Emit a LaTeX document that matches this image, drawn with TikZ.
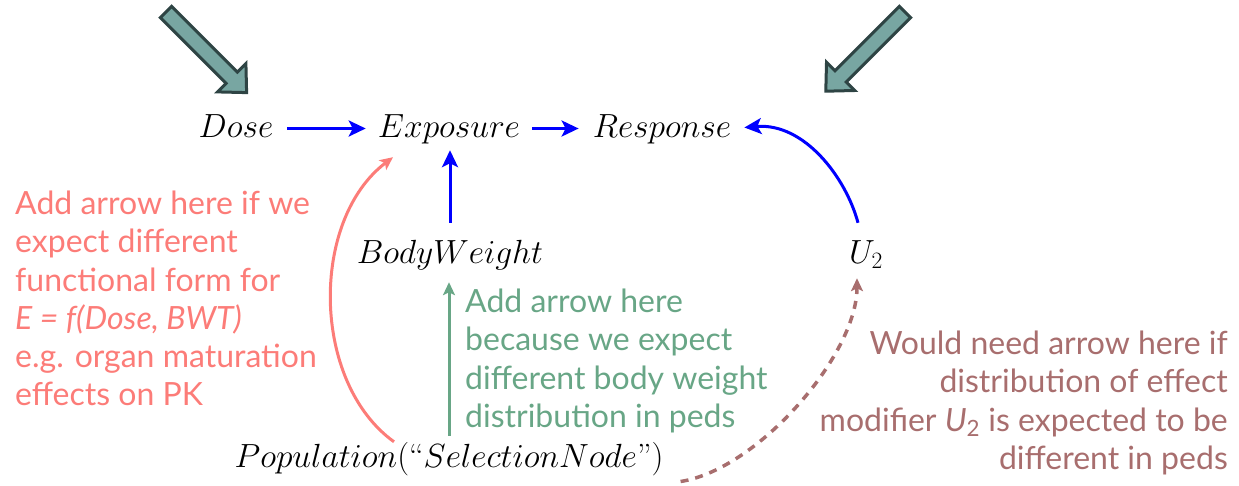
\RequirePackage{fix-cm}
\documentclass[tikz,border=0pt]{standalone}
\usepackage{fontspec}
\newfontfamily\lato{Lato}
\usetikzlibrary{arrows.meta}
\definecolor{arrblue}{RGB}{0,0,255}
\definecolor{salmon}{RGB}{252,124,120}
\definecolor{sage}{RGB}{104,166,134}
\definecolor{rosebrown}{RGB}{168,110,110}
\definecolor{bigfill}{RGB}{120,166,162}
\definecolor{bigline}{RGB}{46,68,68}
\tikzset{
  mathnode/.style={inner sep=0pt, font=\fontsize{33.5}{40}\selectfont, text height=25pt, text depth=8pt},
  bluearr/.style={draw=arrblue, line width=3pt, -{Stealth[length=17pt,width=16pt,inset=4pt]}},
  salarr/.style={draw=salmon, line width=3pt, -{Stealth[length=13pt,width=12pt,inset=3pt]}},
  sagearr/.style={draw=sage, line width=3pt, -{Stealth[length=13pt,width=12pt,inset=3pt]}},
  brownarr/.style={draw=rosebrown, line width=3.5pt, dash pattern=on 8pt off 7pt, -{Stealth[length=13pt,width=12pt,inset=3pt]}},
  note/.style={inner sep=0pt, font=\lato\fontsize{32}{38.2}\selectfont},
  bigarrow/.style={fill=bigfill, draw=bigline, line width=3pt, line join=miter},
}
\begin{document}
\begin{tikzpicture}[x=1pt,y=-1pt]
\useasboundingbox (0,0) rectangle (1239,485);
% big arrows
\begin{scope}[shift={(166,12)},rotate=-45]
  \path[bigarrow] (0,-8) -- (93,-8) -- (93,-20) -- (114,0) -- (93,20) -- (93,8) -- (0,8) -- cycle;
\end{scope}
\begin{scope}[shift={(905,12)},rotate=-135]
  \path[bigarrow] (0,-8) -- (91,-8) -- (91,-20) -- (112,0) -- (91,20) -- (91,8) -- (0,8) -- cycle;
\end{scope}
% math nodes
\node[mathnode, anchor=base] (dose) at (236,137) {$Dose$};
\node[mathnode, anchor=base] (exp) at (449,137) {$Exposure$};
\node[mathnode, anchor=base] (resp) at (662,137) {$Response$};
\node[mathnode, anchor=base] (bw) at (450,263) {$BodyWeight$};
\node[mathnode, anchor=base] (u2) at (866,263) {$U_2$};
\node[mathnode, anchor=base] (pop) at (449,467) {$Population($``$SelectionNode$''$)$};
% blue arrows
\draw[bluearr, shorten <=14pt, shorten >=12pt] (dose) -- (exp);
\draw[bluearr, shorten <=12pt, shorten >=14pt] (exp) -- (resp);
\draw[bluearr, shorten <=15pt, shorten >=5pt] (bw.north) -- (bw.north |- exp.south);
\draw[bluearr] ([shift={(-8,-15)}]u2.north) .. controls +(-12,-45) and +(60,-5) .. ([shift={(13,-1)}]resp.east);
% salmon
\draw[salarr] ([xshift=-55pt]pop.north) .. controls +(-83,-60) and +(-83,63) .. ([shift={(-56,12)}]exp.south);
% sage
\draw[sagearr, shorten <=6pt, shorten >=11pt] (pop.north) -- (pop.north |- bw.south);
% dashed
\draw[brownarr] ([shift={(17,23)}]pop.east) .. controls +(77,-12) and +(0,77) .. ([shift={(-9,7)}]u2.south);
% notes
\node[note, text=salmon, align=left, anchor=north west] (n1) at (15,191) {Add arrow here if we\\expect different\\functional form for\\\textit{E = f(Dose, BWT)}\\e.g. organ maturation\\effects on PK};
\node[note, text=sage, align=left, anchor=north west] (n2) at (465,289) {Add arrow here\\because we expect\\different body weight\\distribution in peds};
\node[note, text=rosebrown, align=right, anchor=north east] (n3) at (1228,331) {Would need arrow here if\\distribution of effect\\modifier \textit{U}\textsubscript{2} is expected to be\\different in peds};
\end{tikzpicture}
\end{document}
